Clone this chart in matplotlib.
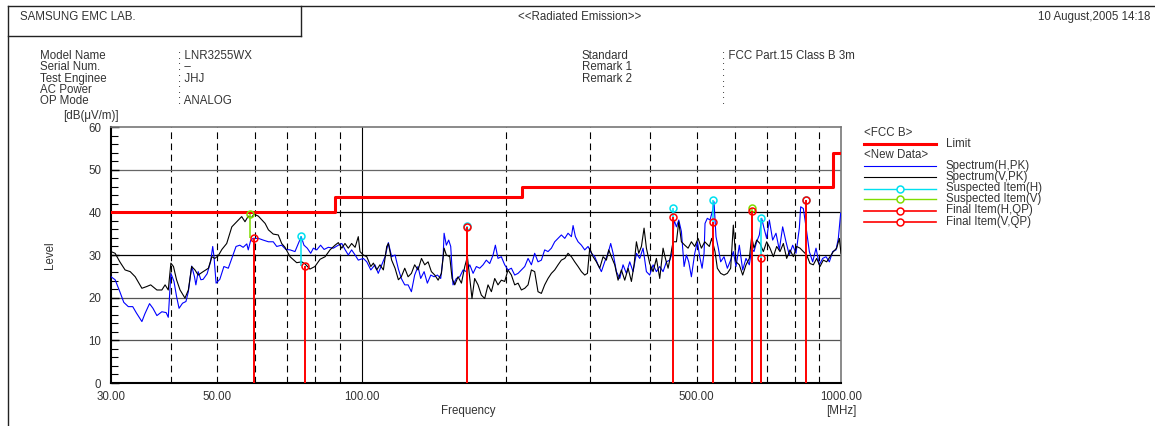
import matplotlib
matplotlib.use('Agg')
import matplotlib.pyplot as plt
from matplotlib.lines import Line2D
from matplotlib.ticker import FixedLocator, MultipleLocator, NullLocator

plt.rcParams['font.family'] = ['Liberation Sans', 'DejaVu Sans']

# ---- data ----
h_freq = [30.0, 30.6, 31.3, 31.9, 32.6, 33.3, 33.9, 34.8, 35.3, 36.1, 36.7, 37.4, 38.3, 39.1, 39.5,
          40.0, 40.6, 41.1, 41.6, 42.3, 43.0, 43.5, 44.2, 44.8, 45.1, 45.6, 46.2, 46.7, 47.6, 48.4,
          48.9, 49.2, 49.7, 50.6, 51.6, 52.7, 53.6, 54.7, 55.7, 56.6, 57.6, 58.0, 58.7, 59.4, 60.9,
          62.3, 63.9, 65.4, 66.5, 68.1, 69.5, 70.9, 72.6, 73.8, 74.8, 75.8, 77.0, 78.3, 79.3, 80.6,
          82.1, 83.5, 85.2, 87.3, 89.4, 90.9, 92.3, 93.8, 95.3, 96.9, 98.4, 100.8, 102.5, 104.5, 106.6,
          108.3, 110.1, 111.9, 113.7, 115.5, 117.4, 119.3, 121.0, 123.0,
          125.0, 127.0, 129.0, 131.1, 132.8, 135.0, 137.1, 139.4, 141.6, 143.9, 146.2, 147.9, 148.6,
          150.2, 151.9, 153.4, 155.1, 157.6, 160.2, 162.8, 165.4, 168.1, 170.8, 173.5, 176.3, 179.2,
          182.0, 185.0, 188.0, 190.1, 192.5, 195.6, 198.8, 202.0, 205.3, 208.6, 212.0, 215.4, 218.9,
          222.4, 226.0, 229.6, 233.3, 237.1, 240.9, 244.8, 248.8, 252.8, 256.9,
          261.0, 265.3, 269.5, 273.9, 276.1, 279.2, 282.8, 287.4, 292.0, 296.7, 301.5, 306.4, 311.3,
          316.3, 321.4, 326.6, 330.8, 334.6, 340.0, 345.5, 351.0, 356.7, 362.5, 368.3, 374.3, 380.3,
          386.4, 392.7, 399.0, 405.5, 412.0, 418.7, 425.4, 432.3, 439.3, 444.2, 448.5, 453.6, 458.7,
          464.6, 470.6, 475.9, 481.2, 487.4, 495.3, 501.7, 507.3, 513.1, 518.0,
          520.4, 526.2, 533.0, 539.9, 543.3, 548.6, 554.8, 561.0, 570.1, 579.3, 588.6, 596.2, 603.9,
          613.6, 623.6, 633.6, 643.8, 651.1, 658.4, 666.9, 675.5, 683.1, 690.8, 699.7, 708.8, 720.2,
          731.8, 743.6, 755.6, 767.8, 780.2, 792.8, 805.6, 818.6, 823.9, 834.5, 845.3, 858.9, 872.8,
          886.9, 901.2, 915.7, 930.5, 945.5, 960.8, 976.3, 987.3, 998.4]
h_level = [24.9, 24.2, 21.4, 18.9, 17.9, 17.9, 16.4, 14.4, 16.2, 18.6, 17.5, 15.8, 16.7, 16.5, 15.4,
           25.7, 23.8, 20.3, 17.5, 18.7, 19.1, 21.4, 27.4, 24.9, 23.0, 26.1, 24.2, 24.3, 25.6, 28.4,
           32.0, 29.6, 23.4, 24.3, 27.3, 26.9, 29.2, 32.0, 32.3, 31.8, 32.6, 31.2, 33.5, 33.9, 33.9,
           33.5, 33.1, 33.1, 32.0, 32.3, 31.3, 31.2, 30.8, 32.7, 34.3, 32.3, 31.6, 30.4, 31.6, 31.2,
           32.3, 31.3, 31.8, 31.6, 32.3, 32.7, 31.3, 30.0, 31.2, 30.0, 28.8, 29.2, 28.4, 26.5, 27.7,
           25.7, 27.7, 29.6, 32.9, 29.6, 30.0, 26.7, 24.5, 23.0,
           23.0, 21.4, 25.3, 27.3, 24.5, 26.1, 23.4, 25.3, 24.9, 25.3, 24.5, 29.6, 35.1,
           32.3, 33.5, 32.0, 23.0, 24.5, 24.9, 26.5, 26.1, 27.7, 25.7, 27.3, 26.9, 27.7,
           28.8, 28.0, 30.0, 32.3, 29.2, 29.6, 27.7, 26.5, 26.9, 25.3, 25.7, 26.5, 27.3,
           29.2, 27.7, 30.4, 28.4, 28.8, 31.2, 30.8, 31.6, 33.1, 33.9,
           34.7, 33.9, 35.1, 34.3, 36.9, 34.3, 33.1, 32.3, 31.2, 32.0, 30.4, 29.6, 27.7,
           26.1, 28.4, 30.4, 32.7, 30.4, 26.1, 24.5, 27.7, 25.7, 28.4, 26.1, 30.4, 29.2,
           31.6, 26.1, 25.3, 27.7, 26.1, 27.3, 26.1, 28.4, 28.8, 30.4, 38.2, 36.6, 38.2,
           35.5, 27.3, 30.0, 28.4, 24.9, 30.4, 33.1, 29.6, 26.9, 30.4,
           37.4, 38.6, 38.2, 40.5, 42.5, 34.3, 31.6, 28.4, 29.6, 26.9, 28.8, 30.8, 27.3,
           32.3, 26.5, 29.2, 27.7, 31.6, 30.8, 33.1, 34.7, 38.6, 36.3, 33.9, 38.2, 33.5,
           35.1, 31.2, 36.6, 33.1, 30.0, 32.3, 30.4, 36.3, 41.3, 40.9, 36.6, 30.8, 28.4,
           31.6, 27.7, 29.2, 29.6, 28.4, 30.8, 31.2, 33.9, 39.8]

v_freq = [30.0, 30.6, 31.3, 32.1, 32.9, 33.7, 34.8, 35.6, 36.3, 37.4, 38.3, 38.9, 39.5, 40.0, 40.5,
          41.1, 41.8, 42.8, 43.5, 44.2, 44.9, 45.6, 46.7, 47.9, 48.7, 49.4, 50.2, 51.1, 52.3, 53.6,
          54.9, 56.2, 57.1, 58.0, 59.0, 59.6, 60.9, 62.9, 63.9, 65.4, 67.0, 68.1, 69.2, 70.9, 73.2,
          75.0, 76.2, 78.0, 79.9, 81.9, 83.9, 85.9, 88.0, 89.4, 90.9, 92.3, 93.8, 95.3, 96.9, 98.4,
          99.2, 100.8, 102.5, 104.5, 105.8, 107.5, 109.2, 111.0, 112.8, 113.7, 115.5, 117.4, 119.3,
          121.0, 123.0,
          125.0, 127.0, 129.0, 131.1, 133.3, 135.4, 137.6, 139.8, 142.1, 144.4, 146.7, 148.6, 150.2,
          152.7, 154.4, 156.4, 158.9, 161.5, 164.1, 166.2, 168.1, 169.9, 172.1, 174.9, 177.7, 180.6,
          183.5, 186.5, 189.5, 192.5, 195.6, 198.8, 202.0, 205.3, 208.6, 212.0, 215.4, 218.9, 222.4,
          226.0, 229.6, 233.3, 237.1, 240.9, 244.8, 248.8, 252.8, 256.9,
          261.0, 265.3, 269.5, 273.9, 278.3, 282.8, 287.4, 292.0, 295.8, 299.1, 303.9, 308.8, 313.8,
          318.9, 324.0, 327.7, 331.9, 337.3, 342.7, 348.2, 353.9, 359.6, 365.4, 370.1, 374.3, 378.5,
          383.4, 388.3, 392.7, 399.0, 405.5, 412.0, 418.7, 425.4, 430.2, 435.8, 441.4, 446.3, 453.6,
          458.7, 464.6, 472.1, 479.7, 487.4, 495.3, 503.3, 511.4, 519.7,
          531.3, 537.3, 546.0, 552.1, 561.0, 570.1, 579.3, 588.6, 596.2, 603.9, 613.6, 623.6, 633.6,
          643.8, 651.1, 658.4, 666.9, 677.7, 688.6, 699.7, 711.0, 722.5, 734.2, 746.0, 758.1, 770.3,
          782.7, 795.4, 808.2, 821.3, 834.5, 848.0, 861.7, 875.6, 889.7, 904.1, 918.7, 933.5, 948.6,
          963.9, 979.4, 992.1, 1000.0]
v_level = [30.8, 30.4, 28.4, 26.5, 26.1, 24.9, 22.2, 22.6, 23.0, 21.8, 21.8, 23.0, 21.8, 28.1, 27.3,
           24.2, 21.8, 19.9, 21.8, 27.3, 26.5, 25.3, 26.1, 26.9, 29.6, 29.2, 29.8, 31.3, 32.7, 36.6,
           37.8, 39.0, 37.8, 39.1, 38.8, 39.6, 39.1, 37.4, 35.9, 34.9, 34.7, 32.7, 31.8, 29.6, 28.2,
           28.4, 27.9, 26.7, 27.3, 29.0, 29.6, 31.2, 32.3, 32.9, 31.6, 32.7, 31.6, 32.7, 31.8, 34.3,
           30.8, 30.0, 29.6, 27.3, 28.1, 26.5, 27.7, 26.5, 32.0, 32.7, 28.8, 26.9, 24.2,
           24.9, 26.9,
           24.9, 25.7, 27.7, 26.5, 29.2, 27.7, 28.4, 26.1, 25.3, 24.1, 25.7, 31.6, 30.0,
           29.6, 24.5, 23.0, 24.9, 23.4, 27.3, 29.6, 24.5, 19.8, 24.5, 23.0, 20.6, 19.8,
           23.0, 21.4, 24.5, 23.0, 24.1, 23.8, 26.5, 25.3, 23.0, 23.4, 21.8, 22.2, 23.0,
           26.5, 26.1, 21.4, 21.0, 23.0, 24.5, 25.7, 26.5, 27.7,
           28.8, 29.2, 30.4, 29.6, 28.4, 27.3, 26.1, 25.3, 25.7, 31.6, 29.6, 28.4, 26.9,
           29.6, 28.8, 31.2, 29.6, 27.7, 24.1, 26.5, 24.1, 26.9, 23.8, 27.7, 33.1, 30.4,
           32.0, 36.3, 31.6, 28.0, 26.1, 29.2, 24.5, 31.6, 29.2, 26.9, 30.0, 33.1, 33.1,
           37.8, 33.1, 32.3, 31.6, 33.1, 32.0, 33.9, 31.6, 33.1,
           32.0, 33.9, 30.8, 26.9, 25.7, 25.3, 25.7, 26.9, 37.0, 28.4, 27.7, 25.3, 27.7,
           29.2, 34.3, 31.6, 33.5, 32.7, 30.8, 33.1, 31.6, 29.6, 32.0, 30.8, 32.7, 29.2,
           31.2, 29.6, 32.0, 31.6, 30.8, 30.0, 28.0, 27.7, 29.2, 27.3, 28.8, 28.4, 29.6,
           30.8, 31.6, 33.9, 30.4]

limit_freq = [30, 88, 216, 960, 1000]
limit_level = [40, 43.5, 46, 54, 54]

susp_h_freq = [74.8, 165.9, 446.9, 541.5, 682.5, 846.0]
susp_h_level = [34.4, 36.8, 40.9, 43.0, 38.7, 43.0]
final_h_freq = [76.2, 165.9, 446.5, 541.5, 682.5, 846.0]
final_h_level = [27.4, 36.6, 38.9, 37.8, 29.4, 42.9]

susp_v_freq = [58.4, 651.5]
susp_v_level = [39.6, 41.1]
final_v_freq = [59.5, 651.5]
final_v_level = [34.1, 40.3]

x_ticks = [30, 50, 100, 500, 1000]
x_tick_labels = ['30.00', '50.00', '100.00', '500.00', '1000.00']
dashed_grid = [40, 50, 60, 70, 80, 90, 200, 300, 400, 500, 600, 700, 800, 900]

CYAN = '#00e0f0'
GREEN = '#80dd00'
TXT = '#333333'

W, H = 1155, 426
fig = plt.figure(figsize=(W / 100, H / 100), dpi=100)


def fx(x):
    return x / W


def fy(y):
    return 1 - y / H


ax = fig.add_axes([fx(111), fy(383), 730 / W, 256 / H])
ax.set_xscale('log')
ax.set_xlim(30, 1000)
ax.set_ylim(0, 60)

# grid
for f in dashed_grid:
    ax.axvline(f, color='black', lw=0.8, ls=(0, (6, 4)), zorder=1)
ax.axvline(100, color='black', lw=0.8, zorder=1)
for lv, c in [(10, '#555555'), (20, '#555555'), (30, 'black'), (40, 'black'), (50, '#666666')]:
    ax.axhline(lv, color=c, lw=0.9, zorder=1)

# traces
ax.step(limit_freq, limit_level, where='post', color='red', lw=2.2, zorder=3)
ax.plot(h_freq, h_level, color='#0000ff', lw=0.8, zorder=4)
ax.plot(v_freq, v_level, color='black', lw=0.8, zorder=5)

# suspected -> final connectors
ax.vlines(susp_h_freq, final_h_level, susp_h_level, color=CYAN, lw=1.1, zorder=6)
ax.vlines(susp_v_freq, final_v_level, susp_v_level, color=GREEN, lw=1.1, zorder=6)
ax.plot(susp_h_freq, susp_h_level, 'o', ms=5, mfc='none', mec=CYAN, mew=1.1, zorder=7)
ax.plot(susp_v_freq, susp_v_level, 'o', ms=5, mfc='none', mec=GREEN, mew=1.1, zorder=7)

# final items
ax.vlines(final_h_freq, 0, final_h_level, color='red', lw=1.4, zorder=8)
ax.vlines(final_v_freq, 0, final_v_level, color='red', lw=1.4, zorder=8)
ax.plot(final_h_freq, final_h_level, 'o', ms=5, mfc='none', mec='red', mew=1.1, zorder=9)
ax.plot(final_v_freq, final_v_level, 'o', ms=5, mfc='none', mec='red', mew=1.1, zorder=9)

fs = 8.3

# axes styling
ax.xaxis.set_major_locator(FixedLocator(x_ticks))
ax.xaxis.set_minor_locator(NullLocator())
ax.set_xticklabels(x_tick_labels)
ax.yaxis.set_major_locator(MultipleLocator(10))
ax.yaxis.set_minor_locator(MultipleLocator(2))
ax.tick_params(axis='x', length=0, pad=6, labelsize=fs, labelcolor=TXT)
ax.tick_params(axis='y', which='major', direction='in', length=6, width=1, pad=7,
               labelsize=fs, labelcolor=TXT)
ax.tick_params(axis='y', which='minor', direction='in', length=5, width=0.8)
for s in ['left', 'bottom']:
    ax.spines[s].set_linewidth(1.5)
    ax.spines[s].set_color('black')
for s in ['top', 'right']:
    ax.spines[s].set_linewidth(1.2)
    ax.spines[s].set_color('#777777')

fig.text(fx(468), fy(411), 'Frequency', ha='center', va='center', fontsize=fs, color=TXT)
fig.text(fx(841), fy(411), '[MHz]', ha='center', va='center', fontsize=fs, color=TXT)
fig.text(fx(50), fy(255), 'Level', ha='center', va='center', rotation=90, fontsize=fs, color=TXT)
fig.text(fx(63), fy(116), '[dB(\u03bcV/m)]', ha='left', va='center', fontsize=fs, color=TXT)

# header frame
frame = [((8, 1155), (6, 6)), ((8, 8), (6, 426)), ((301, 301), (6, 36)), ((8, 301), (36, 36))]
for xs, ys in frame:
    fig.add_artist(Line2D([fx(xs[0]), fx(xs[1])], [fy(ys[0]), fy(ys[1])],
                          color='#222222', lw=1.0))

fig.text(fx(20), fy(17), 'SAMSUNG EMC LAB.', ha='left', va='center', fontsize=fs, color=TXT)
fig.text(fx(580), fy(17), '<<Radiated Emission>>', ha='center', va='center', fontsize=fs, color=TXT)
fig.text(fx(1150), fy(17), '10 August,2005 14:18', ha='right', va='center', fontsize=fs, color=TXT)

left_keys = ['Model Name', 'Serial Num.', 'Test Enginee', 'AC Power', 'OP Mode']
left_vals = [': LNR3255WX', ': \u2013', ': JHJ', ':', ': ANALOG']
right_keys = ['Standard', 'Remark 1', 'Remark 2', '', '']
right_vals = [': FCC Part.15 Class B 3m', ':', ':', ':', ':']
rows_y = [56, 67, 79, 90, 101]
for i, y in enumerate(rows_y):
    fig.text(fx(40), fy(y), left_keys[i], ha='left', va='center', fontsize=fs, color=TXT)
    fig.text(fx(178), fy(y), left_vals[i], ha='left', va='center', fontsize=fs, color=TXT)
    fig.text(fx(582), fy(y), right_keys[i], ha='left', va='center', fontsize=fs, color=TXT)
    fig.text(fx(722), fy(y), right_vals[i], ha='left', va='center', fontsize=fs, color=TXT)

# legend (drawn by hand to keep the section headers)
fig.text(fx(864), fy(133), '<FCC B>', ha='left', va='center', fontsize=fs, color=TXT)
fig.text(fx(864), fy(155), '<New Data>', ha='left', va='center', fontsize=fs, color=TXT)
legend_rows = [
    (144, 'Limit', 'red', 2.2, False),
    (166, 'Spectrum(H,PK)', '#0000ff', 0.8, False),
    (177, 'Spectrum(V,PK)', 'black', 0.8, False),
    (188.5, 'Suspected Item(H)', CYAN, 1.0, True),
    (199.5, 'Suspected Item(V)', GREEN, 1.0, True),
    (210.5, 'Final Item(H,QP)', 'red', 1.2, True),
    (221.5, 'Final Item(V,QP)', 'red', 1.2, True),
]
for y, label, c, lw, mk in legend_rows:
    fig.add_artist(Line2D([fx(864), fx(936)], [fy(y), fy(y)], color=c, lw=lw))
    if mk:
        fig.add_artist(Line2D([fx(900)], [fy(y)], marker='o', ms=5, mfc='white', mec=c, mew=1.1))
    fig.text(fx(946), fy(y), label, ha='left', va='center', fontsize=fs, color=TXT)

fig.savefig('out.png', dpi=100)
